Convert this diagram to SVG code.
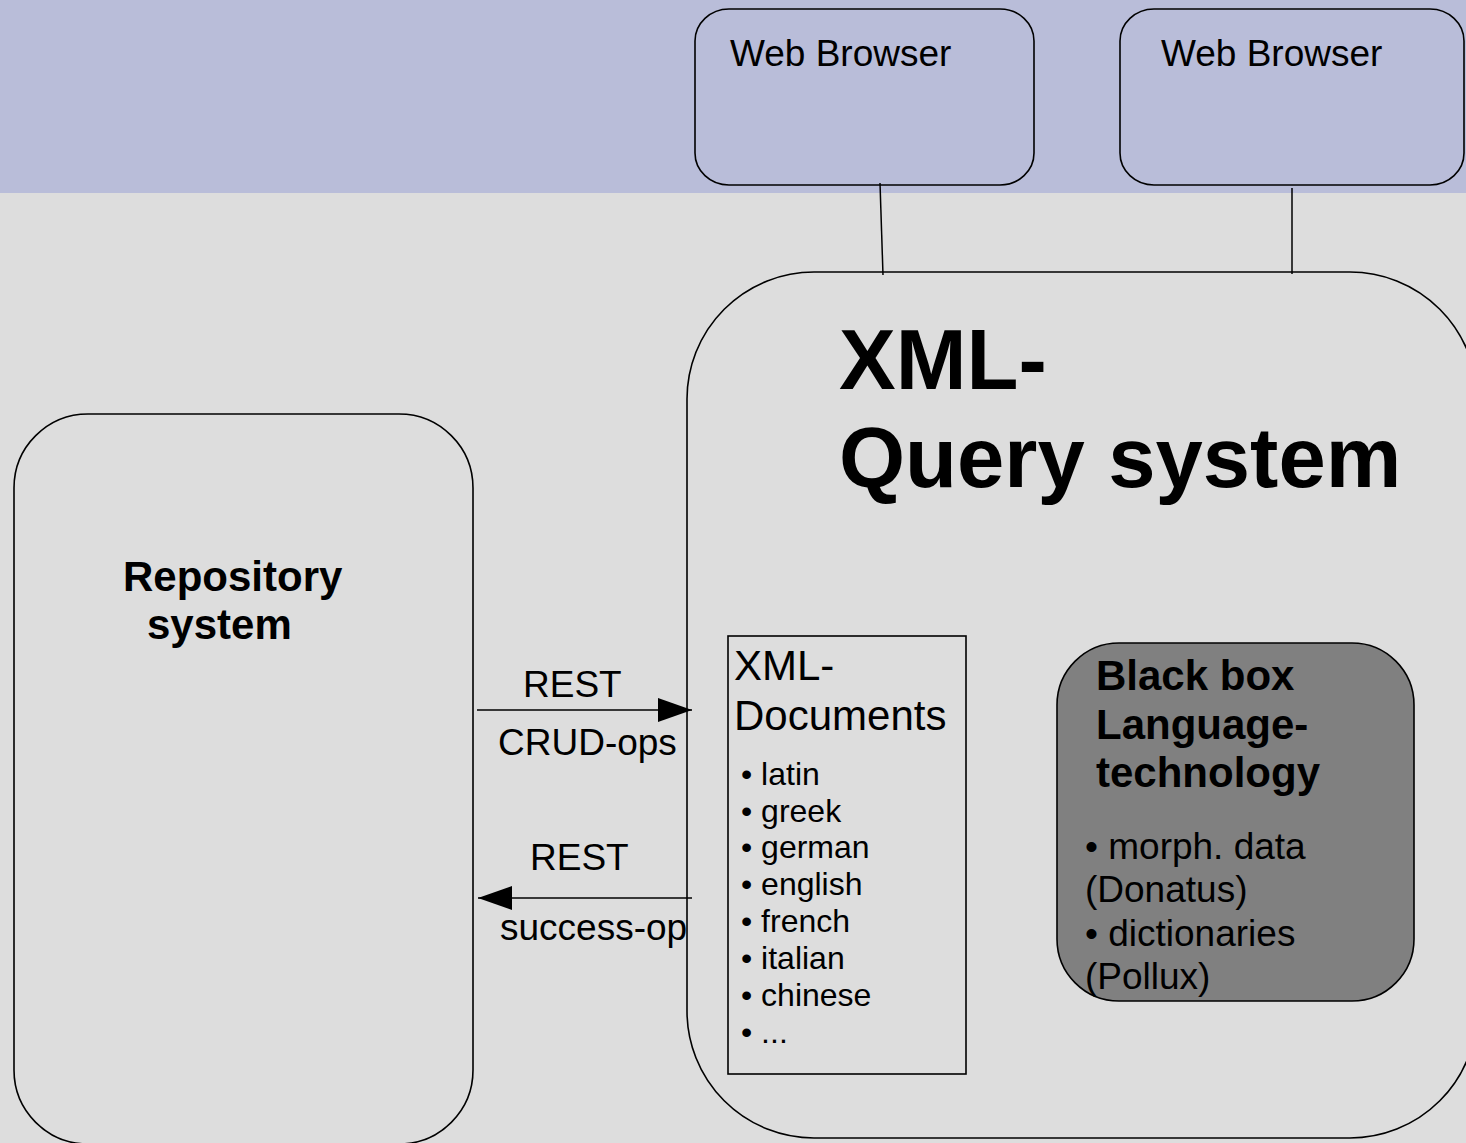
<svg xmlns="http://www.w3.org/2000/svg" width="1466" height="1143" viewBox="0 0 1466 1143">
<defs>
<style>
.box{fill:none;stroke:#000;stroke-width:1.6}
.t{font-family:"Liberation Sans",Arial,sans-serif;fill:#000}
.b{font-weight:bold}
.conn{stroke:#000;stroke-width:1.5;fill:none}
</style>
<marker id="ah" markerUnits="userSpaceOnUse" markerWidth="34" markerHeight="24" refX="34" refY="12" orient="auto">
<path d="M0,0 L34,12 L0,24 Z" fill="#000"/>
</marker>
</defs>
<rect x="0" y="0" width="1466" height="1143" fill="#dddddd"/>
<rect x="0" y="0" width="1466" height="193" fill="#b9bdd9"/>

<g id="browser1">
<rect class="box" x="695" y="9" width="339" height="176" rx="34" ry="32"/>
<text class="t" x="730" y="66" font-size="37">Web Browser</text>
</g>
<g id="browser2">
<rect class="box" x="1120" y="9" width="344" height="176" rx="34" ry="32"/>
<text class="t" x="1161" y="66" font-size="37">Web Browser</text>
</g>

<g id="xml-query-system">
<rect class="box" x="687" y="272" width="790" height="866" rx="127" ry="127"/>
<text class="t b" x="839" y="389" font-size="85">XML-</text>
<text class="t b" x="839" y="487" font-size="85">Query system</text>
</g>

<g id="repository-system">
<rect class="box" x="14" y="414" width="459" height="730" rx="74" ry="74"/>
<text class="t b" x="123" y="591" font-size="42">Repository</text>
<text class="t b" x="147" y="639" font-size="42">system</text>
</g>

<g id="xml-documents">
<rect x="728" y="636" width="238" height="438" fill="none" stroke="#000" stroke-width="1.6"/>
<text class="t" x="734" y="680" font-size="42">XML-</text>
<text class="t" x="734" y="730" font-size="42">Documents</text>
<g class="t" font-size="32">
<text x="741" y="785">• latin</text>
<text x="741" y="822">• greek</text>
<text x="741" y="858">• german</text>
<text x="741" y="895">• english</text>
<text x="741" y="932">• french</text>
<text x="741" y="969">• italian</text>
<text x="741" y="1006">• chinese</text>
<text x="741" y="1043">• ...</text>
</g>
</g>

<g id="black-box">
<rect x="1057" y="643" width="357" height="358" rx="62" ry="62" fill="#808080" stroke="#000" stroke-width="1.6"/>
<text class="t b" x="1096" y="690" font-size="42">Black box</text>
<text class="t b" x="1096" y="739" font-size="42">Language-</text>
<text class="t b" x="1096" y="787" font-size="42">technology</text>
<g class="t" font-size="37">
<text x="1085" y="859">• morph. data</text>
<text x="1085" y="902">(Donatus)</text>
<text x="1085" y="946">• dictionaries</text>
<text x="1085" y="989">(Pollux)</text>
</g>
</g>

<g id="connectors">
<line class="conn" x1="880" y1="183" x2="883" y2="275"/>
<line class="conn" x1="1292" y1="188" x2="1292" y2="274"/>
<line class="conn" x1="477" y1="710" x2="692" y2="710" marker-end="url(#ah)"/>
<line class="conn" x1="692" y1="898" x2="478" y2="898" marker-end="url(#ah)"/>
</g>

<g id="labels" class="t" font-size="37">
<text x="523" y="697">REST</text>
<text x="498" y="755">CRUD-ops</text>
<text x="530" y="870">REST</text>
<text x="500" y="940">success-op</text>
</g>
</svg>
